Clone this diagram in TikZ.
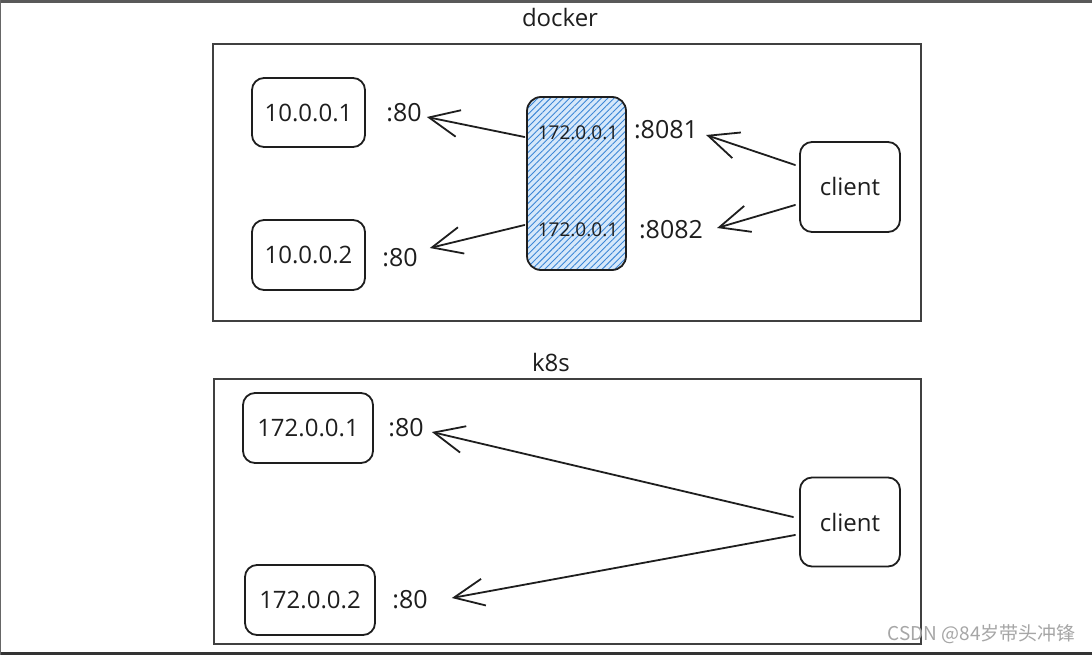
\documentclass[tikz,border=0pt]{standalone}
\usepackage{fontspec}
\setmainfont{Open Sans}
\newfontfamily\cjkfont{Noto Sans CJK SC}
\usetikzlibrary{arrows.meta,patterns.meta,calc}
\definecolor{ink}{HTML}{1E1E1E}
\definecolor{hatch}{HTML}{3D87D6}
\definecolor{hatchbg}{HTML}{D6E8FA}
\tikzset{
  frame/.style={draw=ink!85, line width=1.8pt, inner sep=0pt, anchor=north west},
  box/.style={draw=ink, line width=1.8pt, rounded corners=12pt, inner sep=0pt,
    font=\fontsize{24}{26}\selectfont, text=ink},
  lbl/.style={inner sep=2pt, font=\fontsize{25}{27}\selectfont, text=ink},
  small/.style={inner sep=1pt, font=\fontsize{19}{21}\selectfont, text=ink},
  ttl/.style={inner sep=1pt, font=\fontsize{24}{26}\selectfont, text=ink},
  arr/.style={draw=ink, line width=1.8pt, line cap=round,
    -{Straight Barb[length=30pt,width=27pt,line width=1.8pt]}},
}
\begin{document}
\begin{tikzpicture}[x=1pt,y=-1pt]
\useasboundingbox (0,0) rectangle (1092,655);
\fill[white] (0,0) rectangle (1092,655);
\fill[black!65] (0,0) rectangle (1092,3);
\fill[black!80] (0,652) rectangle (1092,655);
\fill[black!60] (0,0) rectangle (1.2,655);

% ---------- docker ----------
\node[ttl] (tdocker) at (560,18) {docker};
\node[frame, minimum width=708pt, minimum height=277pt] (dframe) at (212,43) {};

\node[box, minimum width=113pt, minimum height=69pt] (s1) at (308.5,112.5) {10.0.0.1};
\node[box, minimum width=113pt, minimum height=70pt] (s2) at (308.5,255) {10.0.0.2};
\node[lbl] (p1) at (404,113) {:80};
\node[lbl] (p2) at (400,258) {:80};

\node[draw=ink, line width=1.8pt, rounded corners=14pt, inner sep=0pt,
      minimum width=99pt, minimum height=173pt,
      preaction={fill=hatchbg},
      pattern={Lines[angle=45,distance=4.5pt,line width=0.9pt]}, pattern color=hatch]
      (hub) at (576.5,183.5) {};
\node[small] (hA) at (578,133) {172.0.0.1};
\node[small] (hB) at (578,230) {172.0.0.1};
\node[lbl] (q1) at (666,130) {:8081};
\node[lbl] (q2) at (671,230) {:8082};

\node[box, minimum width=100pt, minimum height=90pt] (c1) at (850,187) {client};

\draw[arr] ($(hub.west |- hA)+(-2,4)$) -- ($(p1.east)+(3,4)$);
\draw[arr] ($(hub.west |- hB)+(-2,-5)$) -- ($(p2.east)+(10,-10)$);
\draw[arr] ($(c1.west)+(-4,-22)$) -- ($(q1.east)+(6,5)$);
\draw[arr] ($(c1.west)+(-4,18)$) -- ($(q2.east)+(12,-2)$);

% ---------- k8s ----------
\node[ttl] (tk8s) at (551,362) {k8s};
\node[frame, minimum width=707pt, minimum height=265pt] (kframe) at (213,378) {};

\node[box, minimum width=130pt, minimum height=70pt] (k1) at (308,428) {172.0.0.1};
\node[box, minimum width=130pt, minimum height=70pt] (k2) at (310,600) {172.0.0.2};
\node[lbl] (kp1) at (406,428) {:80};
\node[lbl] (kp2) at (410,600) {:80};

\node[box, minimum width=100pt, minimum height=89pt] (c2) at (850,522) {client};

\draw[arr] ($(c2.west)+(-6,-5)$) -- ($(kp1.east)+(6,4)$);
\draw[arr] ($(c2.west)+(-4,13)$) -- ($(kp2.east)+(22,-2)$);

% ---------- watermark ----------
\node[anchor=east, inner sep=0pt, text=black!35,
      font=\cjkfont\fontsize{19}{21}\selectfont] (wm) at (1076,634) {CSDN @84岁带头冲锋};
\end{tikzpicture}
\end{document}
